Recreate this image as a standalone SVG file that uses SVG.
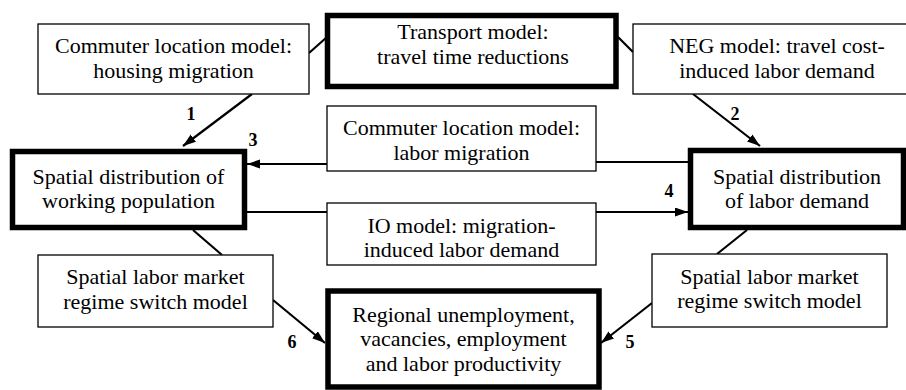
<svg xmlns="http://www.w3.org/2000/svg" width="906" height="390" viewBox="0 0 906 390">
<style>
.thin{fill:#fff;stroke:#000;stroke-width:1.3}
.thick{fill:#fff;stroke:#000;stroke-width:5.5}
.t{font-family:'Liberation Serif',serif;font-size:22px;fill:#000;text-anchor:middle}
.n{font-family:'Liberation Serif',serif;font-size:18px;font-weight:bold;fill:#000;text-anchor:middle}
.c{stroke:#000;stroke-width:2.2;fill:none}
.a{marker-end:url(#ah)}
</style>
<defs>
<marker id="ah" markerUnits="userSpaceOnUse" markerWidth="14" markerHeight="10" refX="13" refY="4.5" orient="auto">
<path d="M0,0 L13,4.5 L0,9 z" fill="#000"/>
</marker>
</defs>
<rect x="0" y="0" width="906" height="390" fill="#fff"/>
<g id="connectors">
<line class="c" x1="309" y1="53" x2="327" y2="37"/>
<line class="c" x1="618" y1="37" x2="633" y2="52"/>
<line class="c a" x1="252" y1="94" x2="183" y2="146"/>
<line class="c a" x1="693" y1="94" x2="760" y2="146"/>
<line class="c" x1="688" y1="162" x2="596" y2="162"/>
<line class="c a" x1="327" y1="164" x2="247" y2="164"/>
<line class="c" x1="247" y1="212" x2="327" y2="212"/>
<line class="c a" x1="596" y1="212" x2="688" y2="212"/>
<line class="c" x1="193" y1="230" x2="222" y2="255"/>
<line class="c" x1="747" y1="230" x2="717" y2="254"/>
<line class="c a" x1="273" y1="300" x2="325" y2="343"/>
<line class="c a" x1="652" y1="303" x2="601" y2="343"/>
<text class="n" x="191" y="120" font-family="Liberation Serif">1</text>
<text class="n" x="735" y="120" font-family="Liberation Serif">2</text>
<text class="n" x="253" y="146" font-family="Liberation Serif">3</text>
<text class="n" x="669" y="197" font-family="Liberation Serif">4</text>
<text class="n" x="630" y="348" font-family="Liberation Serif">5</text>
<text class="n" x="292" y="348" font-family="Liberation Serif">6</text>
</g>
<g id="housing" font-family="Liberation Serif">
<rect class="thin" x="38" y="24" width="271" height="70"/>
<text class="t" x="173.5" y="53">Commuter location model:</text>
<text class="t" x="173.5" y="77.5">housing migration</text>
</g>
<g id="transport" font-family="Liberation Serif">
<rect class="thick" x="327.5" y="15.5" width="288.5" height="71"/>
<text class="t" x="473" y="39">Transport model:</text>
<text class="t" x="473" y="63.5">travel time reductions</text>
</g>
<g id="neg" font-family="Liberation Serif">
<rect class="thin" x="633" y="24" width="290" height="70"/>
<text class="t" x="777" y="53">NEG model: travel cost-</text>
<text class="t" x="777" y="77.5">induced labor demand</text>
</g>
<g id="labormig" font-family="Liberation Serif">
<rect class="thin" x="327" y="106" width="269" height="65"/>
<text class="t" x="461.5" y="135">Commuter location model:</text>
<text class="t" x="461.5" y="159.5">labor migration</text>
</g>
<g id="workpop" font-family="Liberation Serif">
<rect class="thick" x="12.5" y="151.5" width="232" height="76"/>
<text class="t" x="128.5" y="183.5">Spatial distribution of</text>
<text class="t" x="128.5" y="207.5">working population</text>
</g>
<g id="labdem" font-family="Liberation Serif">
<rect class="thick" x="690.5" y="150.5" width="213" height="77"/>
<text class="t" x="797" y="183.5">Spatial distribution</text>
<text class="t" x="797" y="207.5">of labor demand</text>
</g>
<g id="io" font-family="Liberation Serif">
<rect class="thin" x="327" y="203" width="269" height="62"/>
<text class="t" x="461.5" y="233">IO model: migration-</text>
<text class="t" x="461.5" y="257">induced labor demand</text>
</g>
<g id="switchleft" font-family="Liberation Serif">
<rect class="thin" x="38" y="255" width="235" height="72"/>
<text class="t" x="155.5" y="284">Spatial labor market</text>
<text class="t" x="155.5" y="308.5">regime switch model</text>
</g>
<g id="switchright" font-family="Liberation Serif">
<rect class="thin" x="652" y="254" width="235" height="73"/>
<text class="t" x="769.5" y="283.5">Spatial labor market</text>
<text class="t" x="769.5" y="308">regime switch model</text>
</g>
<g id="regional" font-family="Liberation Serif">
<rect class="thick" x="328" y="291" width="271" height="96"/>
<text class="t" x="463.5" y="321.5">Regional unemployment,</text>
<text class="t" x="463.5" y="346">vacancies, employment</text>
<text class="t" x="463.5" y="370.5">and labor productivity</text>
</g>
</svg>
